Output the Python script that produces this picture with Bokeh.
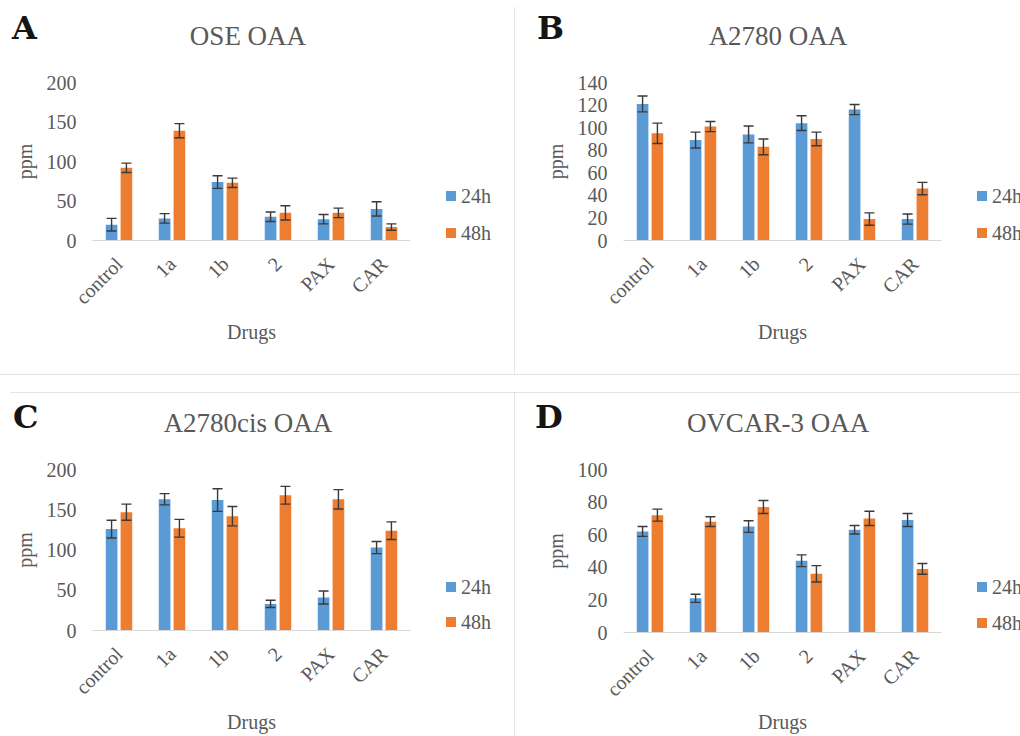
import math
from bokeh.plotting import figure
from bokeh.models import (ColumnDataSource, Whisker, TeeHead, Div, Range1d,
                          FactorRange, FixedTicker)
from bokeh.transform import dodge
from bokeh.layouts import row, column
from bokeh.embed import file_html
from bokeh.resources import INLINE

drugs = ["control", "1a", "1b", "2", "PAX", "CAR"]
series_names = ["24h", "48h"]

# Panel A: OSE OAA
ose_24 = [20, 28, 74, 30, 27, 40]
ose_24_err = [8, 6, 8, 6, 6, 9]
ose_48 = [92, 139, 73, 35, 35, 17]
ose_48_err = [6, 9, 6, 9, 6, 4]

# Panel B: A2780 OAA
a2780_24 = [121, 89, 94, 104, 116, 19]
a2780_24_err = [7, 7, 7.5, 6.5, 4.5, 4.5]
a2780_48 = [95, 101, 83, 90, 19, 46]
a2780_48_err = [9, 4.5, 7, 6, 5.5, 5.5]

# Panel C: A2780cis OAA
cis_24 = [126, 163, 162, 33, 41, 103]
cis_24_err = [11, 7, 14, 4.5, 8, 7.5]
cis_48 = [147, 127, 142, 168, 163, 124]
cis_48_err = [10, 11, 12, 11, 12, 11]

# Panel D: OVCAR-3 OAA
ovcar_24 = [62, 21, 65, 44, 63, 69]
ovcar_24_err = [3, 2.5, 3.6, 3.6, 2.6, 4]
ovcar_48 = [72, 68, 77, 36, 70, 39]
ovcar_48_err = [3.7, 3, 4, 5, 4.4, 3.3]

ticks_A = [0, 50, 100, 150, 200]
ticks_B = [0, 20, 40, 60, 80, 100, 120, 140]
ticks_C = [0, 50, 100, 150, 200]
ticks_D = [0, 20, 40, 60, 80, 100]

BLUE = "#5B9BD5"
ORANGE = "#ED7D31"
COLORS = [BLUE, ORANGE]
GRAY_TXT = "#595959"
SERIF = "Liberation Serif"
SEP = "#e4e4e4"
HEADER_H = 56
FRAME_W = 318


def header(letter, title, w, letter_left, letter_top, title_cx, title_top):
    html = (
        f'<div style="position:relative;width:{w}px;height:{HEADER_H}px;overflow:hidden;">'
        f'<span style="position:absolute;left:{letter_left}px;top:{letter_top}px;'
        f'font-family:\'DejaVu Serif\';font-weight:bold;font-size:32px;line-height:32px;'
        f'color:#151515;white-space:nowrap;">{letter}</span>'
        f'<span style="position:absolute;left:{title_cx}px;top:{title_top}px;'
        f'transform:translateX(-50%);font-family:\'{SERIF}\';font-size:27px;line-height:27px;'
        f'color:{GRAY_TXT};white-space:nowrap;">{title}</span>'
        f'</div>'
    )
    return Div(text=html, width=w, height=HEADER_H, margin=0)


def legend_div(w, h, left, centers):
    parts = [f'<div style="position:relative;width:{w}px;height:{h}px;overflow:hidden;">']
    for name, col, cy in zip(series_names, COLORS, centers):
        parts.append(
            f'<span style="position:absolute;left:{left}px;top:{cy - 5}px;width:10px;height:10px;'
            f'background:{col};"></span>'
            f'<span style="position:absolute;left:{left + 15}px;top:{cy - 10}px;'
            f'font-family:\'{SERIF}\';font-size:20px;line-height:20px;color:{GRAY_TXT};'
            f'white-space:nowrap;">{name}</span>'
        )
    parts.append('</div>')
    return Div(text="".join(parts), width=w, height=h, margin=0)


def panel(v24, e24, v48, e48, ticks, h, fl, ft, fb, xlab_standoff):
    w = fl + FRAME_W + 2
    src = ColumnDataSource(dict(
        drug=drugs, v24=v24, v48=v48,
        u24=[v + e for v, e in zip(v24, e24)], l24=[v - e for v, e in zip(v24, e24)],
        u48=[v + e for v, e in zip(v48, e48)], l48=[v - e for v, e in zip(v48, e48)],
    ))
    p = figure(width=w, height=h, x_range=FactorRange(*drugs),
               y_range=Range1d(0, ticks[-1]), output_backend="svg",
               toolbar_location=None, title=None,
               min_border_left=fl, min_border_right=2,
               min_border_top=ft, min_border_bottom=fb)
    p.outline_line_color = None
    p.xgrid.visible = False
    p.ygrid.visible = False

    p.vbar(x=dodge("drug", -0.14, range=p.x_range), top="v24", width=0.22,
           source=src, fill_color=BLUE, line_color=None)
    p.vbar(x=dodge("drug", 0.14, range=p.x_range), top="v48", width=0.22,
           source=src, fill_color=ORANGE, line_color=None)
    for off, up, lo in [(-0.14, "u24", "l24"), (0.14, "u48", "l48")]:
        wk = Whisker(source=src, base=dodge("drug", off, range=p.x_range),
                     upper=up, lower=lo, line_color="#3a3a3a", line_width=1.4,
                     upper_head=TeeHead(size=10, line_color="#3a3a3a", line_width=1.4),
                     lower_head=TeeHead(size=10, line_color="#3a3a3a", line_width=1.4),
                     level="annotation")
        p.add_layout(wk)

    xa = p.xaxis[0]
    xa.axis_line_color = "#d9d9d9"
    xa.axis_line_width = 1.2
    xa.major_tick_line_color = None
    xa.minor_tick_line_color = None
    xa.major_tick_out = 0
    xa.major_label_orientation = math.pi / 4
    xa.major_label_standoff = 20
    xa.major_label_text_font = SERIF
    xa.major_label_text_font_size = "20px"
    xa.major_label_text_color = GRAY_TXT
    xa.axis_label = "Drugs"
    xa.axis_label_standoff = xlab_standoff
    xa.axis_label_text_font = SERIF
    xa.axis_label_text_font_size = "20px"
    xa.axis_label_text_font_style = "normal"
    xa.axis_label_text_color = GRAY_TXT

    ya = p.yaxis[0]
    ya.ticker = FixedTicker(ticks=ticks)
    ya.axis_line_color = None
    ya.major_tick_line_color = None
    ya.minor_tick_line_color = None
    ya.major_tick_out = 0
    ya.major_label_standoff = 16
    ya.major_label_text_font = SERIF
    ya.major_label_text_font_size = "20px"
    ya.major_label_text_color = GRAY_TXT
    ya.axis_label = "ppm"
    ya.axis_label_standoff = 8
    ya.axis_label_text_font = SERIF
    ya.axis_label_text_font_size = "20px"
    ya.axis_label_text_font_style = "normal"
    ya.axis_label_text_color = GRAY_TXT
    return p


TOP_H = 374
BOT_H = 343
WL = 514
WR = 505

hA = header("A", "OSE OAA", WL, 12, 12, 248, 23)
hB = header("B", "A2780 OAA", WR, 22, 12, 263, 23)
hC = header("C", "A2780cis OAA", WL, 13, 8, 248, 17)
hD = header("D", "OVCAR-3 OAA", WR, 20, 8, 263, 17)

pA = panel(ose_24, ose_24_err, ose_48, ose_48_err, ticks_A,
           TOP_H - HEADER_H, 92, 26, 134, 2)
pB = panel(a2780_24, a2780_24_err, a2780_48, a2780_48_err, ticks_B,
           TOP_H - HEADER_H, 108, 26, 134, 2)
pC = panel(cis_24, cis_24_err, cis_48, cis_48_err, ticks_C,
           BOT_H - HEADER_H, 92, 20, 106, 2)
pD = panel(ovcar_24, ovcar_24_err, ovcar_48, ovcar_48_err, ticks_D,
           BOT_H - HEADER_H, 108, 20, 101, 0)

lA = legend_div(WL - pA.width, TOP_H - HEADER_H, 34, [140, 177])
lB = legend_div(WR - pB.width, TOP_H - HEADER_H, 34, [140, 177])
lC = legend_div(WL - pC.width, BOT_H - HEADER_H, 34, [138, 173])
lD = legend_div(WR - pD.width, BOT_H - HEADER_H, 34, [138, 174])


def vline(hh, gap):
    return column(Div(width=1, height=gap, margin=0),
                  Div(width=1, height=hh - gap, margin=0, styles={"background-color": SEP}),
                  spacing=0)


def hline(indent):
    total = WL + 1 + WR
    if indent:
        return row(Div(width=indent, height=1, margin=0),
                   Div(width=total - indent, height=1, margin=0,
                       styles={"background-color": SEP}), spacing=0)
    return Div(width=total, height=1, margin=0, styles={"background-color": SEP})


def cell(hd, p, lg):
    return column(hd, row(p, lg, spacing=0), spacing=0)


layout = column(
    row(cell(hA, pA, lA), vline(TOP_H, 7), cell(hB, pB, lB), spacing=0),
    hline(0),
    Div(width=WL + 1 + WR, height=17, margin=0),
    hline(10),
    row(cell(hC, pC, lC), vline(BOT_H, 0), cell(hD, pD, lD), spacing=0),
    spacing=0,
)

open("out.html", "w").write(file_html(layout, INLINE))
